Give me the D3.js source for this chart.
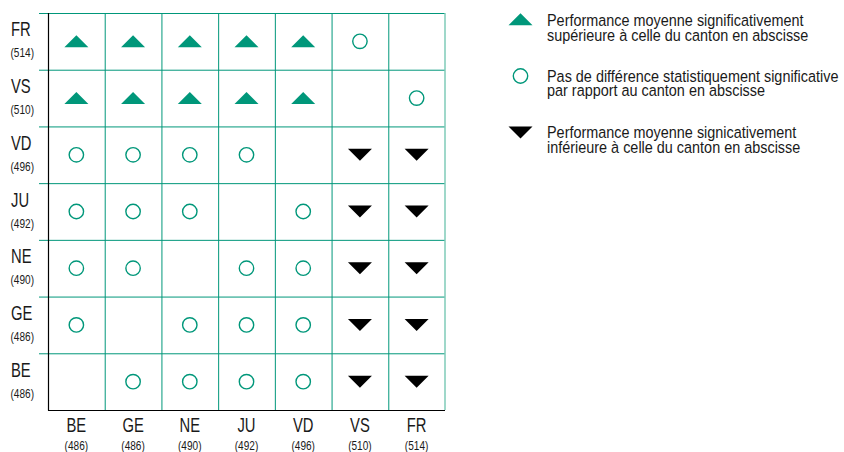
<!DOCTYPE html>
<html>
<head>
<meta charset="utf-8">
<script src="https://cdn.jsdelivr.net/npm/d3@7"></script>
<style>
  body { margin: 0; background: #fff; }
  text { font-family: "Liberation Sans Narrow", "Arial Narrow", "Liberation Sans", sans-serif; fill: #1a1a1a; }
</style>
</head>
<body>
<svg id="chart" width="844" height="452"></svg>
<script>
// cantons en abscisse (colonnes) et en ordonnee (lignes), avec scores moyens
const columns = ["BE", "GE", "NE", "JU", "VD", "VS", "FR"];
const colScores = [486, 486, 490, 492, 496, 510, 514];
const rows = ["FR", "VS", "VD", "JU", "NE", "GE", "BE"];
const rowScores = [514, 510, 496, 492, 490, 486, 486];

// U = superieur, O = pas de difference, D = inferieur, "" = meme canton
const results = [
  ["U", "U", "U", "U", "U", "O", ""],
  ["U", "U", "U", "U", "U", "", "O"],
  ["O", "O", "O", "O", "", "D", "D"],
  ["O", "O", "O", "", "O", "D", "D"],
  ["O", "O", "", "O", "O", "D", "D"],
  ["O", "", "O", "O", "O", "D", "D"],
  ["", "O", "O", "O", "O", "D", "D"]
];

const legendCodes = ["U", "O", "D"];
const legendLines = [
  ["Performance moyenne significativement", "supérieure à celle du canton en abscisse"],
  ["Pas de différence statistiquement significative", "par rapport au canton en abscisse"],
  ["Performance moyenne signicativement", "inférieure à celle du canton en abscisse"]
];

const teal = "#00977a";
const svg = d3.select("#chart");

const x = d3.scaleBand().domain(columns).range([48, 445]);
const y = d3.scaleBand().domain(rows).range([13, 410]);

// pas de police etroite installee : on comprime horizontalement
function label(g, tx, ty, size, sx, txt, anchor) {
  return g.append("text")
    .attr("transform", `translate(${tx},${ty}) scale(${sx},1)`)
    .attr("font-size", size)
    .attr("text-anchor", anchor || "start")
    .text(txt);
}

// grille
const grid = svg.append("g");
grid.selectAll(".h")
  .data(rows)
  .enter().append("line")
  .attr("x1", 39).attr("x2", 445)
  .attr("y1", d => y(d) + 0.5).attr("y2", d => y(d) + 0.5)
  .attr("stroke", teal).attr("stroke-width", 1);
grid.selectAll(".v")
  .data(columns.slice(1))
  .enter().append("line")
  .attr("x1", d => x(d) + 0.5).attr("x2", d => x(d) + 0.5)
  .attr("y1", 13).attr("y2", 410)
  .attr("stroke", teal).attr("stroke-width", 1);
grid.append("line")
  .attr("x1", 445).attr("x2", 445)
  .attr("y1", 13).attr("y2", 410)
  .attr("stroke", "#7fcbb8").attr("stroke-width", 1.5);

// axes noirs
svg.append("line")
  .attr("x1", 48.5).attr("x2", 48.5).attr("y1", 13).attr("y2", 410.5)
  .attr("stroke", "#000").attr("stroke-width", 1.2);
svg.append("line")
  .attr("x1", 48).attr("x2", 445).attr("y1", 410.5).attr("y2", 410.5)
  .attr("stroke", "#000").attr("stroke-width", 1.2);

// symboles
function drawSymbol(g, code, cx, cy) {
  if (code === "U") {
    g.append("path")
      .attr("d", `M${cx - 12},${cy + 6}L${cx + 12},${cy + 6}L${cx},${cy - 6}Z`)
      .attr("fill", teal);
  } else if (code === "D") {
    g.append("path")
      .attr("d", `M${cx - 12},${cy - 6}L${cx + 12},${cy - 6}L${cx},${cy + 6}Z`)
      .attr("fill", "#000");
  } else if (code === "O") {
    g.append("circle")
      .attr("cx", cx).attr("cy", cy).attr("r", 7.2)
      .attr("fill", "none").attr("stroke", teal).attr("stroke-width", 1.4);
  }
}

const marks = svg.append("g");
rows.forEach((r, i) => {
  columns.forEach((c, j) => {
    drawSymbol(marks, results[i][j], x(c) + x.bandwidth() / 2, y(r) + y.bandwidth() / 2);
  });
});

// libelles des lignes
const rowLab = svg.append("g");
rows.forEach((r, i) => {
  const cy = y(r) + y.bandwidth() / 2;
  label(rowLab, 11, cy - 5, 20, 0.74, r);
  label(rowLab, 10.5, cy + 16, 12, 0.84, `(${rowScores[i]})`);
});

// libelles des colonnes
const colLab = svg.append("g");
columns.forEach((c, i) => {
  const cx = x(c) + x.bandwidth() / 2;
  label(colLab, cx, 432, 20, 0.74, c, "middle");
  label(colLab, cx, 450, 12, 0.84, `(${colScores[i]})`, "middle");
});

// legende (deux lignes par entree, dans un seul texte)
const legendY = [19.3, 76, 132.5];
const legendBase = [26, 81.5, 138];
const legend = svg.append("g");
legendCodes.forEach((d, i) => {
  drawSymbol(legend, d, 520.5, legendY[i]);
  const t = legend.append("text")
    .attr("transform", `translate(547,${legendBase[i]}) scale(0.925,1)`)
    .attr("font-size", 15.6);
  legendLines[i].forEach((line, k) => {
    t.append("tspan").attr("x", 0).attr("dy", k === 0 ? 0 : 15).text(line);
  });
});
</script>
</body>
</html>
